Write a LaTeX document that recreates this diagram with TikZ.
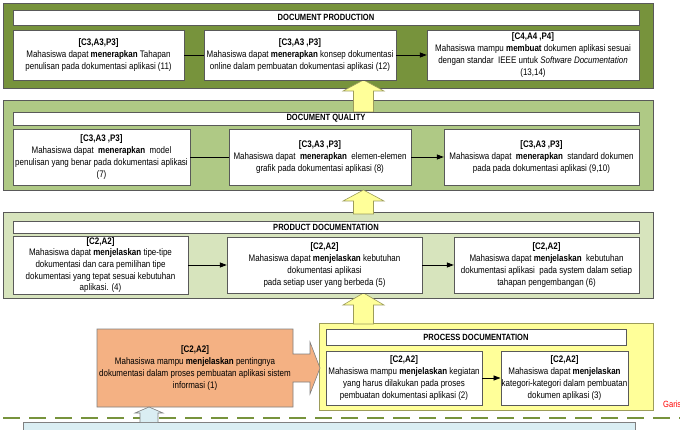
\documentclass[tikz,border=0pt]{standalone}
\usepackage{fontspec}
\setmainfont{Liberation Sans}[FakeStretch=0.84]
\usetikzlibrary{arrows.meta}
\definecolor{pOne}{HTML}{77933C}
\definecolor{pTwo}{HTML}{AFC985}
\definecolor{pThree}{HTML}{D7E4BD}
\definecolor{pFour}{HTML}{FFFF99}
\definecolor{orng}{HTML}{F4B183}
\definecolor{lblue}{HTML}{DAEEF3}
\definecolor{edge}{HTML}{595959}
\definecolor{yEdge}{HTML}{9C9C5A}
\definecolor{dashc}{HTML}{77933C}
\begin{document}
\begin{tikzpicture}[x=1pt,y=-1pt,
  panel/.style={draw=edge,line width=0.6pt},
  titlebar/.style={draw=edge,fill=white,inner sep=0pt,font=\fontsize{9}{10}\selectfont\bfseries},
  obox/.style={draw=edge,fill=white,align=center,inner sep=1pt,font=\fontsize{9.5}{11.7}\selectfont},
  link/.style={line width=0.8pt,black},
  arr/.style={link,-{Triangle[length=7pt,width=5pt]}},
  upblock/.style={draw=yEdge,fill=pFour,line width=0.6pt},
  blueblock/.style={draw=gray,fill=lblue,line width=0.6pt}]
\clip (0,0) rectangle (680,430);
\fill[white] (0,0) rectangle (680,430);

% ---------- panels ----------
\draw[panel,fill=pOne] (3,3) rectangle (653,88);
\draw[panel,fill=pTwo] (3,100) rectangle (653,190);
\draw[panel,fill=pThree] (3,212) rectangle (653,298);
\draw[draw=yEdge,line width=1pt,fill=pFour] (319,324) rectangle (653,410);

% ---------- upward block arrows ----------
\draw[upblock] (353.5,112) -- (353.5,91) -- (343,91) -- (363.5,80) -- (384,91) -- (373.5,91) -- (373.5,112) -- cycle;
\draw[upblock] (353.5,214) -- (353.5,201) -- (343,201) -- (363.5,190) -- (384,201) -- (373.5,201) -- (373.5,214) -- cycle;
\draw[upblock] (353.5,324) -- (353.5,305) -- (343,305) -- (363.5,293) -- (384,305) -- (373.5,305) -- (373.5,324) -- cycle;

% ---------- title bars ----------
\node[titlebar,minimum width=626pt,minimum height=15pt] (t1) at (326,17.5) {DOCUMENT PRODUCTION};
\node[titlebar,minimum width=626pt,minimum height=13pt] (t2) at (326,118.5) {DOCUMENT QUALITY};
\node[titlebar,minimum width=626pt,minimum height=12pt] (t3) at (326,227) {PRODUCT DOCUMENTATION};
\node[titlebar,minimum width=300pt,minimum height=16pt] (t4) at (476,337) {PROCESS DOCUMENTATION};

% ---------- DOCUMENT PRODUCTION ----------
\node[obox,minimum width=171pt,minimum height=50pt] (A) at (98.5,55)
 {\textbf{[C3,A3,P3]}\\Mahasiswa dapat \textbf{menerapkan} Tahapan\\penulisan pada dokumentasi aplikasi (11)};
\node[obox,minimum width=192pt,minimum height=50pt] (B) at (300,55)
 {\textbf{[C3,A3 ,P3]}\\Mahasiswa dapat \textbf{menerapkan} konsep dokumentasi\\online dalam pembuatan dokumentasi aplikasi (12)};
\node[obox,minimum width=212pt,minimum height=50pt] (C) at (533,55)
 {\textbf{[C4,A4 ,P4]}\\Mahasiswa mampu \textbf{membuat} dokumen aplikasi sesuai\\dengan standar\ \ IEEE untuk \textit{Software Documentation}\\(13,14)};
\draw[link] (A.east) -- (B.west);
\draw[arr] (B.east) -- (C.west);

% ---------- DOCUMENT QUALITY ----------
\node[obox,minimum width=177pt,minimum height=56pt] (D) at (101.5,157)
 {\textbf{[C3,A3 ,P3]}\\Mahasiswa dapat\ \ \textbf{menerapkan}\ \ model\\penulisan yang benar pada dokumentasi aplikasi\\(7)};
\node[obox,minimum width=182pt,minimum height=56pt] (E) at (320,157)
 {\textbf{[C3,A3 ,P3]}\\Mahasiswa dapat\ \ \textbf{menerapkan}\ \ elemen-elemen\\grafik pada dokumentasi aplikasi (8)};
\node[obox,minimum width=195pt,minimum height=56pt] (F) at (541.5,157)
 {\textbf{[C3,A3 ,P3]}\\Mahasiswa dapat\ \ \textbf{menerapkan}\ \ standard dokumen\\pada pada dokumentasi aplikasi (9,10)};
\draw[link] (D.east) -- (E.west);
\draw[arr] (E.east) -- (F.west);

% ---------- PRODUCT DOCUMENTATION ----------
\node[obox,minimum width=175pt,minimum height=56pt] (G) at (100.5,265)
 {\textbf{[C2,A2]}\\Mahasiswa dapat \textbf{menjelaskan} tipe-tipe\\dokumentasi dan cara pemilihan tipe\\dokumentasi yang tepat sesuai kebutuhan\\aplikasi. (4)};
\node[obox,minimum width=195pt,minimum height=56pt] (H) at (324.5,265)
 {\textbf{[C2,A2]}\\Mahasiswa dapat \textbf{menjelaskan} kebutuhan\\dokumentasi aplikasi\\pada setiap user yang berbeda (5)};
\node[obox,minimum width=185pt,minimum height=56pt] (I) at (546.5,265)
 {\textbf{[C2,A2]}\\Mahasiswa dapat \textbf{menjelaskan}\ \ kebutuhan\\dokumentasi aplikasi\ \ pada system dalam setiap\\tahapan pengembangan (6)};
\draw[arr] (G.east) -- (H.west);
\draw[arr] (H.east) -- (I.west);

% ---------- PROCESS DOCUMENTATION ----------
\node[obox,minimum width=156pt,minimum height=54pt] (J) at (404,378)
 {\textbf{[C2,A2]}\\Mahasiswa mampu \textbf{menjelaskan} kegiatan\\yang harus dilakukan pada proses\\pembuatan dokumentasi aplikasi (2)};
\node[obox,minimum width=123pt,minimum height=54pt] (K) at (564.5,378)
 {\textbf{[C2,A2]}\\Mahasiswa dapat \textbf{menjelaskan}\\kategori-kategori dalam pembuatan\\dokumen aplikasi (3)};
\draw[arr] (J.east) -- (K.west);

% ---------- orange callout ----------
\draw[draw=gray,fill=orng,line width=0.6pt] (97,329) -- (293,329) -- (293,354) -- (310,354) -- (310,342) -- (320,368)
  -- (310,394) -- (310,382) -- (293,382) -- (293,407) -- (97,407) -- cycle;
\node[align=center,inner sep=0pt,font=\fontsize{9.5}{11.7}\selectfont] (O) at (195,368)
 {\textbf{[C2,A2]}\\Mahasiswa mampu \textbf{menjelaskan} pentingnya\\dokumentasi dalam proses pembuatan aplikasi sistem\\informasi (1)};

% ---------- boundary line and base ----------
\draw[dashc,line width=2pt,dash pattern=on 17pt off 9pt] (3,418) -- (680,418);
\draw[blueblock] (23,422) rectangle (635,445);
\draw[blueblock] (140,422) -- (140,413) -- (135,413) -- (149,407) -- (163,413) -- (158,413) -- (158,422);
\node[anchor=base west,inner sep=0pt,text=red,font=\fontsize{9}{10}\selectfont] (garis) at (663,407) {Garis};
\end{tikzpicture}
\end{document}
